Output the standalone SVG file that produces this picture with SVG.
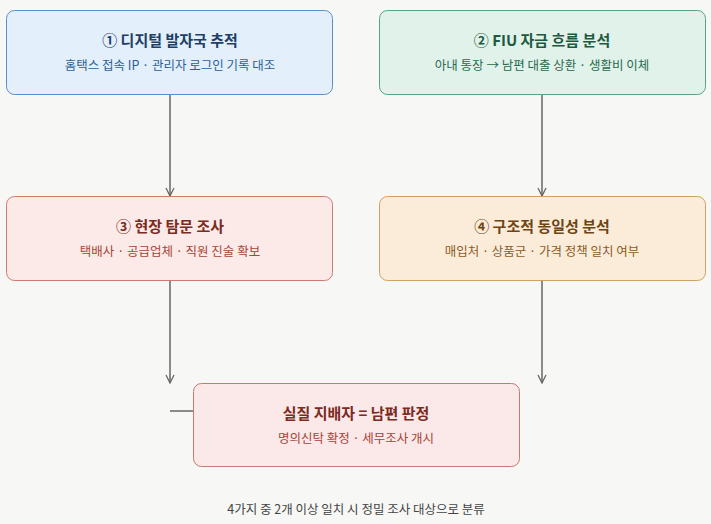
<svg xmlns="http://www.w3.org/2000/svg" width="711" height="524" viewBox="0 0 711 524">
<style>
text{font-family:"Noto Sans CJK KR","Noto Sans",sans-serif;text-anchor:middle}
.t{font-size:15px;font-weight:bold}
.s{font-size:12.5px}
.c{stroke:#666;stroke-width:1.5;fill:none}
</style>
<defs><marker id="a" viewBox="0 0 10 10" refX="9" refY="5" markerWidth="10" markerHeight="10" markerUnits="userSpaceOnUse" orient="auto"><path d="M1,1L9,5L1,9" fill="none" stroke="#666" stroke-width="1.3"/></marker></defs>
<rect width="711" height="524" fill="#f7f7f5"/>
<g id="connectors">
<path class="c" d="M170,95V196" marker-end="url(#a)"/>
<path class="c" d="M542,95V196" marker-end="url(#a)"/>
<path class="c" d="M170,281V383" marker-end="url(#a)"/>
<path class="c" d="M542,281V383" marker-end="url(#a)"/>
<path class="c" d="M170,411H193"/>
</g>
<g id="n1"><rect x="6.5" y="10.5" width="326" height="84" rx="8" fill="#e3effb" stroke="#5b8fc9"/>
<text x="170" y="46" class="t" fill="#1e3f66">① 디지털 발자국 추적</text><text x="170" y="70" class="s" fill="#2c5f95">홈택스 접속 IP · 관리자 로그인 기록 대조</text></g>
<g id="n2"><rect x="379.5" y="10.5" width="326" height="84" rx="8" fill="#e1f2eb" stroke="#5ba283"/>
<text x="542" y="46" class="t" fill="#1d5a40">② FIU 자금 흐름 분석</text><text x="542" y="70" class="s" fill="#276b4c">아내 통장 → 남편 대출 상환 · 생활비 이체</text></g>
<g id="n3"><rect x="6.5" y="196.5" width="326" height="84" rx="8" fill="#fbeae7" stroke="#cf7a6e"/>
<text x="170" y="232" class="t" fill="#7a2b22">③ 현장 탐문 조사</text><text x="170" y="256" class="s" fill="#a84437">택배사 · 공급업체 · 직원 진술 확보</text></g>
<g id="n4"><rect x="379.5" y="196.5" width="326" height="84" rx="8" fill="#fbecd9" stroke="#d0a066"/>
<text x="542" y="232" class="t" fill="#6e4514">④ 구조적 동일성 분석</text><text x="542" y="256" class="s" fill="#8d5a1e">매입처 · 상품군 · 가격 정책 일치 여부</text></g>
<g id="n5"><rect x="193.5" y="383.5" width="326" height="83" rx="8" fill="#fbe8e8" stroke="#c47a72"/>
<text x="356" y="419" class="t" fill="#7a2b22">실질 지배자 = 남편 판정</text><text x="356" y="443" class="s" fill="#a84437">명의신탁 확정 · 세무조사 개시</text></g>
<text x="356" y="514" class="s" fill="#444">4가지 중 2개 이상 일치 시 정밀 조사 대상으로 분류</text>
</svg>
